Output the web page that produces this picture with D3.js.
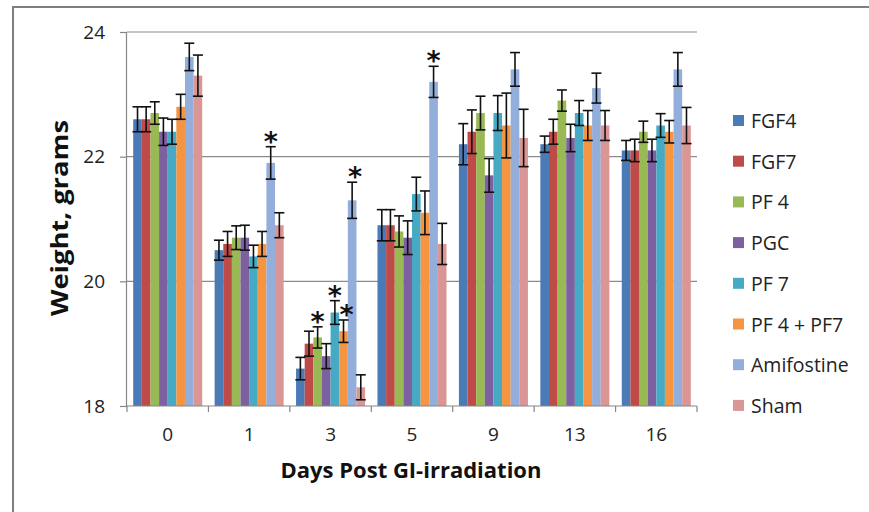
<!DOCTYPE html>
<html><head><meta charset="utf-8">
<script src="https://cdn.jsdelivr.net/npm/d3@7/dist/d3.min.js"></script>
<style>body{margin:0;background:#fff}svg{display:block}</style>
</head><body><svg id="c" width="869" height="512"></svg>
<script>
const days = ["0","1","3","5","9","13","16"];
const seriesNames = ["FGF4","FGF7","PF 4","PGC","PF 7","PF 4 + PF7","Amifostine","Sham"];
const colors = ["#4A7BB7","#BE4B48","#98B954","#7D60A0","#46AAC5","#F59441","#93AEDA","#DA9694"];
// values per series, across days 0,1,3,5,9,13,16
const FGF4      = [22.6, 20.5, 18.6, 20.9, 22.2, 22.2, 22.1];
const FGF7      = [22.6, 20.6, 19.0, 20.9, 22.4, 22.4, 22.1];
const PF4       = [22.7, 20.7, 19.1, 20.8, 22.7, 22.9, 22.4];
const PGC       = [22.4, 20.7, 18.8, 20.7, 21.7, 22.3, 22.1];
const PF7       = [22.4, 20.4, 19.5, 21.4, 22.7, 22.7, 22.5];
const PF4PF7    = [22.8, 20.6, 19.2, 21.1, 22.5, 22.5, 22.4];
const Amifostine= [23.6, 21.9, 21.3, 23.2, 23.4, 23.1, 23.4];
const Sham      = [23.3, 20.9, 18.3, 20.6, 22.3, 22.5, 22.5];
// error bar half-widths
const errFGF4      = [0.2, 0.16, 0.18, 0.25, 0.33, 0.13, 0.16];
const errFGF7      = [0.2, 0.2, 0.2, 0.25, 0.35, 0.2, 0.18];
const errPF4       = [0.18, 0.19, 0.17, 0.25, 0.27, 0.17, 0.17];
const errPGC       = [0.22, 0.2, 0.2, 0.27, 0.27, 0.22, 0.18];
const errPF7       = [0.2, 0.18, 0.19, 0.27, 0.28, 0.2, 0.19];
const errPF4PF7    = [0.2, 0.2, 0.18, 0.35, 0.52, 0.24, 0.18];
const errAmifostine= [0.22, 0.26, 0.29, 0.25, 0.27, 0.24, 0.27];
const errSham      = [0.33, 0.2, 0.2, 0.33, 0.46, 0.24, 0.29];
// significance markers: [dayIndex, seriesIndex]
const stars = [[1,6],[2,2],[2,4],[2,5],[2,6],[3,6]];
const yTicks = [18,20,22,24];

const values = [FGF4,FGF7,PF4,PGC,PF7,PF4PF7,Amifostine,Sham];
const errs = [errFGF4,errFGF7,errPF4,errPGC,errPF7,errPF4PF7,errAmifostine,errSham];

const svg = d3.select("#c");
const L=127, R=697, T=32, B=406;
const font = "'Open Sans', 'Liberation Sans', sans-serif";

svg.append("rect").attr("x",13).attr("y",7).attr("width",900).attr("height",600)
  .attr("fill","none").attr("stroke","#7f7f7f").attr("stroke-width",2);

const y = d3.scaleLinear().domain([18,24]).range([B,T]);
const x0 = d3.scaleBand().domain(days).range([L,R]).padding(0);
const gap = 12.4;
const x1 = d3.scaleBand().domain(d3.range(seriesNames.length)).range([gap/2, x0.bandwidth()-gap/2]).padding(0);

// gridlines
svg.append("g").selectAll("line").data(yTicks.slice(1)).join("line")
  .attr("x1",L).attr("x2",R).attr("y1",d=>y(d)).attr("y2",d=>y(d))
  .attr("stroke","#8c8c8c").attr("stroke-width",1.2);

// bars
const g = svg.append("g");
days.forEach((d,di)=>{
  seriesNames.forEach((s,si)=>{
    const v = values[si][di];
    g.append("rect").attr("x",x0(d)+x1(si)).attr("y",y(v))
      .attr("width",x1.bandwidth()).attr("height",y(18)-y(v)).attr("fill",colors[si]);
  });
});
// error bars
const eg = svg.append("g").attr("stroke","#111").attr("stroke-width",1.6);
days.forEach((d,di)=>{
  seriesNames.forEach((s,si)=>{
    const v = values[si][di], e = errs[si][di];
    const cx = x0(d)+x1(si)+x1.bandwidth()/2;
    eg.append("line").attr("x1",cx).attr("x2",cx).attr("y1",y(v+e)).attr("y2",y(v-e));
    eg.append("line").attr("x1",cx-5).attr("x2",cx+5).attr("y1",y(v+e)).attr("y2",y(v+e));
    eg.append("line").attr("x1",cx-5).attr("x2",cx+5).attr("y1",y(v-e)).attr("y2",y(v-e));
  });
});
// stars (nudged right when the left neighbour in the same group also has one)
stars.forEach(([di,si])=>{
  const v = values[si][di], e = errs[si][di];
  const crowded = stars.some(([d2,s2])=>d2===di && s2===si-1);
  const cx = x0(days[di])+x1(si)+x1.bandwidth()/2 + (crowded?3:0);
  svg.append("text").attr("x",cx).attr("y",y(v+e)+4).attr("text-anchor","middle")
    .attr("font-family","'DejaVu Sans', sans-serif").attr("font-weight","bold")
    .attr("font-size",27).attr("fill","#111").text("*");
});

// y axis
const ya = svg.append("g").attr("transform",`translate(${L},0)`)
  .call(d3.axisLeft(y).tickValues(yTicks).tickSize(6).tickFormat(d3.format("d")));
ya.select(".domain").attr("stroke","#868686").attr("stroke-width",1.2).attr("d",`M-0.5,${B}V${T}`);
ya.selectAll(".tick line").attr("stroke","#868686").attr("stroke-width",1.2).attr("x1",-7).attr("x2",0);
ya.selectAll(".tick text").attr("x",-22).attr("font-family",font).attr("font-size",19).attr("fill","#222");

// x axis
const xa = svg.append("g").attr("transform",`translate(0,${B})`)
  .call(d3.axisBottom(x0).tickSize(0).tickPadding(25));
xa.select(".domain").attr("stroke","#868686").attr("stroke-width",1.2).attr("d",`M${L},0H${R}`);
xa.selectAll(".tick text").attr("font-family",font).attr("font-size",19).attr("fill","#222").attr("dy","0.55em");
svg.append("g").selectAll("line").data(d3.range(days.length+1)).join("line")
  .attr("x1",i=>L+i*x0.step()).attr("x2",i=>L+i*x0.step()).attr("y1",B).attr("y2",B+6)
  .attr("stroke","#868686").attr("stroke-width",1.2);

// axis titles
svg.append("text").attr("x",411).attr("y",478).attr("text-anchor","middle")
  .attr("font-family",font).attr("font-weight","bold").attr("font-size",22).attr("fill","#111")
  .text("Days Post GI-irradiation");
svg.append("text").attr("transform","translate(68,218) rotate(-90)").attr("text-anchor","middle")
  .attr("font-family",font).attr("font-weight","bold").attr("font-size",23).attr("fill","#111")
  .attr("textLength",196).attr("lengthAdjust","spacingAndGlyphs")
  .text("Weight, grams");

// legend
const lg = svg.append("g");
seriesNames.forEach((s,i)=>{
  const ly = 121 + i*40.7;
  lg.append("rect").attr("x",733).attr("y",ly-6).attr("width",11).attr("height",11).attr("fill",colors[i]);
  lg.append("text").attr("x",751).attr("y",ly+7).attr("font-family",font).attr("font-size",19.5).attr("fill","#222").text(s);
});
</script></body></html>
